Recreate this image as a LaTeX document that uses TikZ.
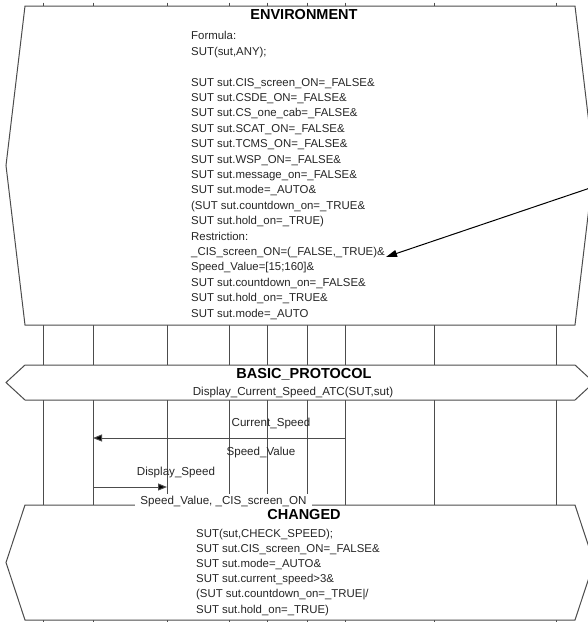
\documentclass[tikz,border=0pt]{standalone}
\usepackage{fontspec}
\setmainfont{Liberation Sans}
\usetikzlibrary{arrows.meta}
\begin{document}
\begin{tikzpicture}[x=1pt, y=-1pt,
  frame/.style={draw=black!70, line width=1pt, fill=white},
  life/.style={draw=black!70, line width=1pt},
  title/.style={inner sep=0, text=black, font=\fontsize{14.5}{16}\selectfont\bfseries},
  body/.style={inner sep=0, align=left, text=black!85, font=\fontsize{11.4}{15.4}\selectfont},
  msglabel/.style={inner sep=0, text=black!85, font=\fontsize{11.6}{13}\selectfont},
  msg/.style={draw=black!70, line width=1pt, -{Triangle[length=9pt,width=7pt,fill=black]}},
  note/.style={draw=black, line width=1pt, -{Triangle[length=11pt,width=7pt]}}
]
\useasboundingbox (0,0) rectangle (588,622);
\clip (0,0) rectangle (588,622);

% Lifelines
\foreach \x [count=\i] in {43,93,167,229.5,267,307.5,345,434,556} {
  \coordinate (ll\i) at (\x,0);
  \draw[life] (\x,2.5) -- (\x,6);
  \draw[life] (\x,325) -- (\x,365);
  \draw[life] (\x,400) -- (\x,505);
  \draw[life] (\x,620) -- (\x,623);
}

% Environment
\draw[frame] (25,6) -- (575,6) -- (594,165.5) -- (575,325) -- (25,325) -- (6,165.5) -- cycle;
\node[title] (envtitle) at (304,15) {ENVIRONMENT};
\node[body, anchor=north west] (envtext) at (191,31.5) {Formula:\\
SUT(sut,ANY);\\[15.4pt]
SUT sut.CIS\_screen\_ON=\_FALSE\&\\
SUT sut.CSDE\_ON=\_FALSE\&\\
SUT sut.CS\_one\_cab=\_FALSE\&\\
SUT sut.SCAT\_ON=\_FALSE\&\\
SUT sut.TCMS\_ON=\_FALSE\&\\
SUT sut.WSP\_ON=\_FALSE\&\\
SUT sut.message\_on=\_FALSE\&\\
SUT sut.mode=\_AUTO\&\\
(SUT sut.countdown\_on=\_TRUE\&\\
SUT sut.hold\_on=\_TRUE)\\
Restriction:\\
\_CIS\_screen\_ON=(\_FALSE,\_TRUE)\&\\
Speed\_Value=[15;160]\&\\
SUT sut.countdown\_on=\_FALSE\&\\
SUT sut.hold\_on=\_TRUE\&\\
SUT sut.mode=\_AUTO};
\coordinate (notefrom) at (591.5,187.5);
\coordinate (noteto) at (386,257);
\draw[note] (notefrom) -- (noteto);

% Basic protocol
\draw[frame] (25,365) -- (575,365) -- (594,382.5) -- (575,400) -- (25,400) -- (6,382.5) -- cycle;
\node[title] (bptitle) at (304,374) {BASIC\_PROTOCOL};
\node[msglabel] (bpname) at (293,392) {Display\_Current\_Speed\_ATC(SUT,sut)};

% Messages
\node[msglabel] (curspeed) at (271,423) {Current\_Speed};
\node[msglabel] (speedval) at (261,452) {Speed\_Value};
\draw[msg] (ll7 |- 0,438) -- (ll2 |- 0,438);
\node[msglabel] (dispspeed) at (176,472) {Display\_Speed};
\draw[msg] (ll2 |- 0,487) -- (ll3 |- 0,487);

% Changed
\draw[frame] (25,505) -- (575,505) -- (594,562.5) -- (575,620) -- (25,620) -- (6,562.5) -- cycle;
\node[msglabel, fill=white, inner xsep=5pt, inner ysep=2pt] (params) at (223.5,501) {Speed\_Value, \_CIS\_screen\_ON};
\node[title] (chtitle) at (304,515) {CHANGED};
\node[body, anchor=north west, font=\fontsize{11.4}{15.2}\selectfont] (chtext) at (196,528.7) {SUT(sut,CHECK\_SPEED);\\
SUT sut.CIS\_screen\_ON=\_FALSE\&\\
SUT sut.mode=\_AUTO\&\\
SUT sut.current\_speed>3\&\\
(SUT sut.countdown\_on=\_TRUE|/\\
SUT sut.hold\_on=\_TRUE)};
\end{tikzpicture}
\end{document}
